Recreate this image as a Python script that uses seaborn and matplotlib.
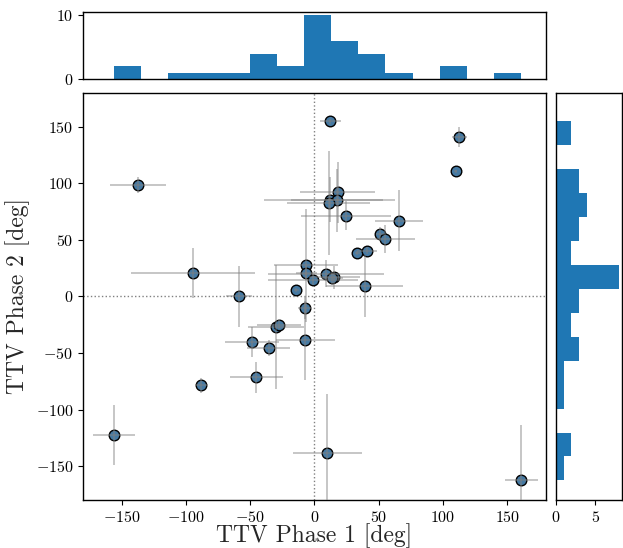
import numpy as np
import pandas as pd
import matplotlib
matplotlib.use("Agg")
import matplotlib.pyplot as plt
import seaborn as sns

# TTV phases (deg) and their 1-sigma uncertainties
phase1 = [-137.3, -94.5, -58.5, -88.0, -156.0, -45.3, -48.4, -35.7, -29.8, -27.4,
          -14.2, -7.5, -7.2, -6.4, -6.4, -0.8, 9.1, 15.5, 14.0, 12.4,
          112.7, 109.8, 18.1, 11.7, 17.6, 10.9, 24.6, 66.0, 50.8, 54.9,
          33.4, 40.7, 38.9, 10.1, 160.8]
phase2 = [98.6, 21.1, 0.0, -78.7, -122.8, -71.6, -40.3, -45.4, -26.8, -25.0,
          5.8, -10.2, -38.6, 27.6, 20.8, 14.9, 20.2, 17.0, 16.0, 155.0,
          140.8, 110.6, 92.0, 85.5, 85.0, 82.6, 71.6, 67.2, 55.4, 50.7,
          38.6, 40.6, 9.3, -138.0, -162.7]
err1 = [22.0, 48.0, 10.0, 5.0, 16.5, 20.5, 21.0, 17.0, 22.0, 17.0,
        2.0, 5.0, 23.0, 25.0, 8.0, 35.0, 45.0, 20.0, 8.0, 8.0,
        5.5, 1.0, 29.0, 51.0, 36.0, 32.0, 35.0, 18.6, 3.0, 23.0,
        2.0, 8.0, 30.0, 27.0, 12.7]
err2 = [7.0, 22.0, 27.0, 7.0, 26.5, 13.5, 13.0, 7.0, 55.0, 4.0,
        2.0, 10.0, 35.0, 50.0, 6.0, 5.0, 12.0, 10.0, 6.0, 2.0,
        9.0, 1.0, 27.0, 20.0, 28.0, 46.0, 13.0, 26.6, 6.0, 12.5,
        2.0, 3.0, 27.0, 52.0, 49.0]

df = pd.DataFrame({"phase1": phase1, "phase2": phase2, "err1": err1, "err2": err2})

sns.set_style("ticks")
plt.rcParams["font.family"] = ["serif"]
plt.rcParams["font.serif"] = ["cmr10", "DejaVu Serif"]
plt.rcParams["mathtext.fontset"] = "cm"
plt.rcParams["axes.formatter.use_mathtext"] = True
plt.rcParams["axes.edgecolor"] = "black"
plt.rcParams["axes.linewidth"] = 1.0
plt.rcParams["xtick.color"] = "black"
plt.rcParams["ytick.color"] = "black"

fig = plt.figure(figsize=(6.23, 5.48), dpi=100)
ax = fig.add_axes([0.1332, 0.0876, 0.7432, 0.7427])
ax_top = fig.add_axes([0.1332, 0.8553, 0.7432, 0.1228], sharex=ax)
ax_right = fig.add_axes([0.892, 0.0876, 0.1064, 0.7427], sharey=ax)

hist_color = "#1f77b4"
point_color = "#467aa3"

# main scatter with error bars
ax.axvline(0, color="gray", ls=":", lw=1.0, zorder=1)
ax.axhline(0, color="gray", ls=":", lw=1.0, zorder=1)
sns.scatterplot(data=df, x="phase1", y="phase2", ax=ax, s=58, color=point_color,
                edgecolor="black", linewidth=1.0, zorder=2, legend=False)
ax.errorbar(df["phase1"], df["phase2"], xerr=df["err1"], yerr=df["err2"],
            fmt="none", ecolor="gray", alpha=0.45, elinewidth=1.4, capsize=0, zorder=3)

ax.set_xlim(-180, 180)
ax.set_ylim(-180, 180)
ax.set_xticks([-150, -100, -50, 0, 50, 100, 150])
ax.set_yticks([-150, -100, -50, 0, 50, 100, 150])
ax.set_xlabel("TTV Phase 1 [deg]", fontsize=17, labelpad=-1)
ax.set_ylabel("TTV Phase 2 [deg]", fontsize=17, labelpad=4)
ax.tick_params(labelsize=11.5, direction="out", length=3.5, width=0.8)

# marginal histograms
sns.histplot(data=df, x="phase1", bins=15, ax=ax_top, color=hist_color,
             alpha=1.0, linewidth=0, edgecolor="none")
sns.histplot(data=df, y="phase2", bins=15, ax=ax_right, color=hist_color,
             alpha=1.0, linewidth=0, edgecolor="none")

ax_top.set_ylim(0, 10.5)
ax_top.set_yticks([0, 10])
ax_top.set_xlabel("")
ax_top.set_ylabel("")
ax_top.tick_params(axis="x", which="both", bottom=False, labelbottom=False)
ax_top.tick_params(axis="y", labelsize=11.5, length=3.5, width=0.8)

ax_right.set_xlim(0, 8.4)
ax_right.set_xticks([0, 5])
ax_right.set_xlabel("")
ax_right.set_ylabel("")
ax_right.tick_params(axis="y", which="both", left=False, labelleft=False)
ax_right.tick_params(axis="x", labelsize=11.5, length=3.5, width=0.8)

for a in (ax, ax_top, ax_right):
    for sp in a.spines.values():
        sp.set_visible(True)
        sp.set_color("black")

fig.savefig("out.png", dpi=100)
